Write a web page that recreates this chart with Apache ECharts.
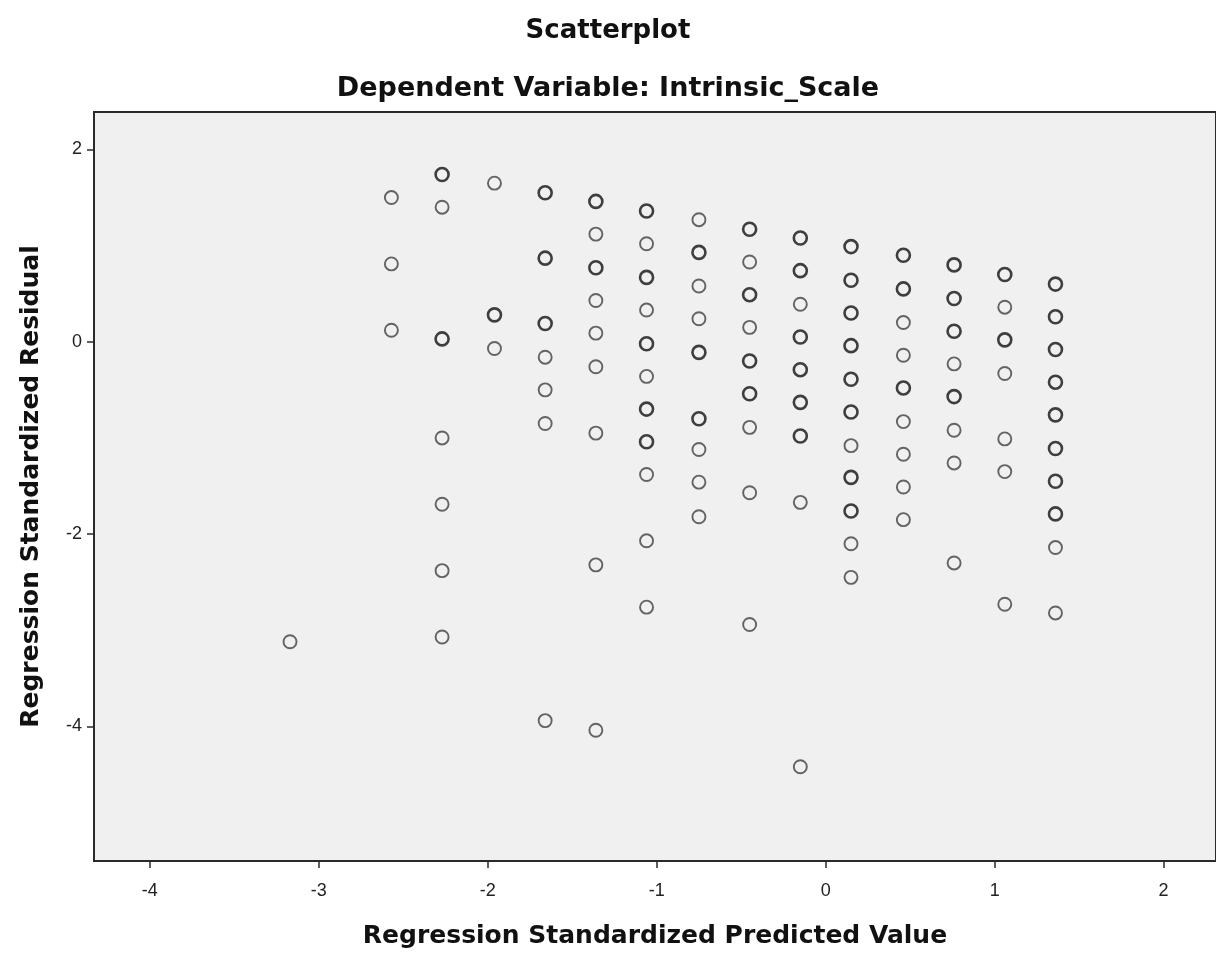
<!DOCTYPE html>
<html>
<head>
<meta charset="utf-8">
<script src="https://cdn.jsdelivr.net/npm/echarts@6/dist/echarts.min.js"></script>
<style>
  html, body { margin: 0; padding: 0; background: #ffffff; }
  #chart { width: 1216px; height: 956px; }
</style>
</head>
<body>
<div id="chart"></div>
<script>
// Regression standardized predicted value (one per column of points)
const predicted = [-3.17, -2.57, -2.27, -1.96, -1.66, -1.36, -1.06, -0.75, -0.45, -0.15, 0.15, 0.46, 0.76, 1.06, 1.36];

// Regression standardized residuals for each predicted-value column
const residuals = [
  [-3.12],
  [1.50, 0.81, 0.12],
  [1.74, 1.40, 0.03, -1.00, -1.69, -2.38, -3.07],
  [1.65, 0.28, -0.07],
  [1.55, 0.87, 0.19, -0.16, -0.50, -0.85, -3.94],
  [1.46, 1.12, 0.77, 0.43, 0.09, -0.26, -0.95, -2.32, -4.04],
  [1.36, 1.02, 0.67, 0.33, -0.02, -0.36, -0.70, -1.04, -1.38, -2.07, -2.76],
  [1.27, 0.93, 0.58, 0.24, -0.11, -0.80, -1.12, -1.46, -1.82],
  [1.17, 0.83, 0.49, 0.15, -0.20, -0.54, -0.89, -1.57, -2.94],
  [1.08, 0.74, 0.39, 0.05, -0.29, -0.63, -0.98, -1.67, -4.42],
  [0.99, 0.64, 0.30, -0.04, -0.39, -0.73, -1.08, -1.41, -1.76, -2.10, -2.45],
  [0.90, 0.55, 0.20, -0.14, -0.48, -0.83, -1.17, -1.51, -1.85],
  [0.80, 0.45, 0.11, -0.23, -0.57, -0.92, -1.26, -2.30],
  [0.70, 0.36, 0.02, -0.33, -1.01, -1.35, -2.73],
  [0.60, 0.26, -0.08, -0.42, -0.76, -1.11, -1.45, -1.79, -2.14, -2.82]
];

// Overlapping cases (drawn darker): 1 = several cases at the point, 0 = single case
const overlapping = [
  [0],
  [0, 0, 0],
  [1, 0, 1, 0, 0, 0, 0],
  [0, 1, 0],
  [1, 1, 1, 0, 0, 0, 0],
  [1, 0, 1, 0, 0, 0, 0, 0, 0],
  [1, 0, 1, 0, 1, 0, 1, 1, 0, 0, 0],
  [0, 1, 0, 0, 1, 1, 0, 0, 0],
  [1, 0, 1, 0, 1, 1, 0, 0, 0],
  [1, 1, 0, 1, 1, 1, 1, 0, 0],
  [1, 1, 1, 1, 1, 1, 0, 1, 1, 0, 0],
  [1, 1, 0, 0, 1, 0, 0, 0, 0],
  [1, 1, 1, 0, 1, 0, 0, 0],
  [1, 0, 1, 0, 0, 0, 0],
  [1, 1, 1, 1, 1, 1, 1, 1, 0, 0]
];

const xTicks = [-4, -3, -2, -1, 0, 1, 2];
const yTicks = [-4, -2, 0, 2];

const titleText = 'Scatterplot';
const subtitleText = 'Dependent Variable: Intrinsic_Scale';
const xName = 'Regression Standardized Predicted Value';
const yName = 'Regression Standardized Residual';

const singleData = [];
const multiData = [];
predicted.forEach((x, i) => {
  residuals[i].forEach((r, j) => {
    (overlapping[i][j] ? multiData : singleData).push([x, r]);
  });
});

const TITLE_FONT = '"DejaVu Sans", Verdana, sans-serif';
const FONT = '"Liberation Sans", Arial, sans-serif';

const chart = echarts.init(document.getElementById('chart'), null, { renderer: 'canvas' });
chart.setOption({
  backgroundColor: '#ffffff',
  animation: false,
  title: [
    { text: titleText, left: 'center', top: 13,
      textStyle: { fontFamily: TITLE_FONT, fontSize: 26, fontWeight: 'bold', color: '#111' } },
    { text: subtitleText, left: 'center', top: 70,
      textStyle: { fontFamily: TITLE_FONT, fontSize: 27, fontWeight: 'bold', color: '#111' } }
  ],
  grid: {
    left: 94, top: 112, right: -3, bottom: 95,
    show: true, backgroundColor: '#f0f0f0', borderColor: '#2a2a2a', borderWidth: 2,
    containLabel: false
  },
  xAxis: {
    type: 'value', min: -4.33, max: 2.31,
    name: xName, nameLocation: 'middle', nameGap: 63,
    nameTextStyle: { fontFamily: TITLE_FONT, fontSize: 25, fontWeight: 'bold', color: '#111' },
    axisLine: { show: true, onZero: false, lineStyle: { color: '#2a2a2a', width: 2 } },
    axisTick: { show: true, length: 7, customValues: xTicks, lineStyle: { color: '#2a2a2a', width: 1.5 } },
    axisLabel: { customValues: xTicks, margin: 21, fontFamily: FONT, fontSize: 18, color: '#222' },
    splitLine: { show: false }
  },
  yAxis: {
    type: 'value', min: -5.40, max: 2.39,
    name: yName, nameLocation: 'middle', nameGap: 50,
    nameTextStyle: { fontFamily: TITLE_FONT, fontSize: 25, fontWeight: 'bold', color: '#111' },
    axisLine: { show: true, onZero: false, lineStyle: { color: '#2a2a2a', width: 2 } },
    axisTick: { show: true, length: 7, customValues: yTicks, lineStyle: { color: '#2a2a2a', width: 1.5 } },
    axisLabel: { customValues: yTicks, margin: 12, fontFamily: FONT, fontSize: 18, color: '#222' },
    splitLine: { show: false }
  },
  series: [
    {
      name: 'single', type: 'scatter', data: singleData, symbol: 'circle', symbolSize: 13,
      itemStyle: { color: 'rgba(0,0,0,0)', borderColor: '#404040', borderWidth: 1.9 },
      emphasis: { disabled: true }
    },
    {
      name: 'multiple', type: 'scatter', data: multiData, symbol: 'circle', symbolSize: 13,
      itemStyle: { color: 'rgba(0,0,0,0)', borderColor: '#111111', borderWidth: 2.6 },
      emphasis: { disabled: true }
    }
  ]
});
</script>
</body>
</html>
